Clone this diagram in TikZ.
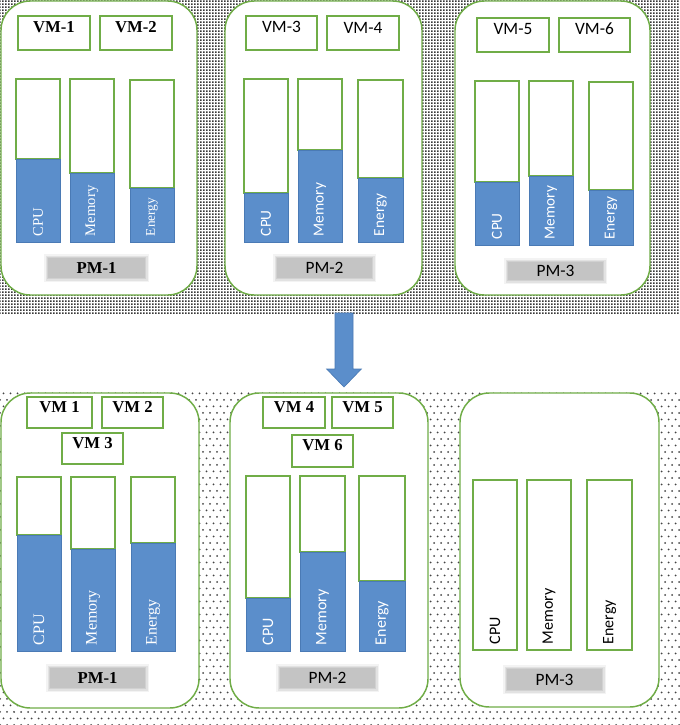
\documentclass[tikz,border=0pt]{standalone}
\usepackage{fontspec}
\setmainfont{Liberation Serif}
\newfontfamily\carl{Carlito}
\usetikzlibrary{patterns.meta,fit}
\definecolor{pmgreen}{HTML}{70AD47}
\definecolor{barblue}{HTML}{5B8ECB}
\definecolor{baredge}{HTML}{4A7AB5}
\definecolor{lblgray}{HTML}{C4C4C4}
\definecolor{dotgray}{HTML}{383838}
\definecolor{dotgrayb}{HTML}{444444}
\tikzdeclarepattern{
  name=topdots,
  type=uncolored,
  bounding box={(0pt,0pt) and (2.25pt,2.25pt)},
  tile size={(2.25pt,2.25pt)},
  code={\fill (0pt,0pt) rectangle (1.55pt,1.55pt);}
}
\tikzdeclarepattern{
  name=botdots,
  type=uncolored,
  bounding box={(-1pt,-1pt) and (5.25pt,9.75pt)},
  tile size={(5.25pt,9.75pt)},
  code={\fill (0pt,0pt) circle (0.75pt); \fill (2.625pt,4.875pt) circle (0.75pt);}
}
\newcommand\bx[6]{\node[fit={(#2,#3) (#4,#5)}, inner sep=0pt, #6] (#1) {};}
\newcommand\vmn[7]{\node[fit={(#2,#3) (#4,#5)}, inner sep=0pt, vmbox, font=#6] (#1) {#7};}
\newcommand\resbar[8]{%
  \node[fit={(#2,#4) (#3,#5)}, inner sep=0pt, barframe] (#1w) {};
  \node[fit={(#2,#5) (#3,#6)}, inner sep=0pt, barfull] (#1f) {};
  \node[bartext, font=#7] (#1t) at ([yshift=4.5pt]#1f.south) {#8};}
\newcommand\lbl[7]{%
  \fill[lblgray, opacity=0.2] (#2-4,#3-4) rectangle (#4+4,#5+4);
  \fill[lblgray, opacity=0.35] (#2-2.5,#3-2.5) rectangle (#4+2.5,#5+2.5);
  \fill[lblgray, opacity=0.55] (#2-1,#3-1) rectangle (#4+1,#5+1);
  \node[fit={(#2,#3) (#4,#5)}, inner sep=0pt, fill=lblgray] (#1) {};
  \node[font=#6] (#1t) at (#1) {#7};}
\begin{document}
\begin{tikzpicture}[x=0.75pt,y=-0.75pt,
  pmbox/.style={draw=pmgreen, line width=1.1pt, fill=white, rounded corners=22pt},
  vmbox/.style={draw=pmgreen, line width=1pt, fill=white, text=black},
  barframe/.style={draw=pmgreen, line width=0.8pt, fill=white},
  barfull/.style={draw=baredge, line width=0.6pt, fill=barblue},
  bartext/.style={rotate=90, anchor=west, inner sep=0pt, text=white},
  ]
\def\fTB{\fontsize{12.5}{14}\selectfont\bfseries}
\def\fTbar{\fontsize{11}{13}\selectfont}
\def\fTen{\fontsize{10}{12}\selectfont}
\def\fTbarb{\fontsize{12}{14}\selectfont}
\def\fC{\carl\fontsize{13}{15}\selectfont}
\def\fCbar{\carl\fontsize{11.5}{13}\selectfont}
\def\fCbarb{\carl\fontsize{12}{14}\selectfont}
\useasboundingbox (0,0) rectangle (680,725);
\fill[white] (0,0) rectangle (680,725);
\fill[pattern=topdots, pattern color=dotgray] (0,0) rectangle (680,313);
\fill[pattern=botdots, pattern color=dotgrayb] (0,388) rectangle (680,725);
% ---------- top ----------
\bx{tpm1}{1}{1}{197}{295}{pmbox}
\bx{tpm2}{225}{1}{422}{295}{pmbox}
\bx{tpm3}{455}{1}{650}{295}{pmbox}
\vmn{tvm1}{18}{16}{90}{50}{\fTB}{VM-1}
\vmn{tvm2}{100}{16}{172}{50}{\fTB}{VM-2}
\vmn{tvm3}{246}{16}{317}{50}{\fC}{VM-3}
\vmn{tvm4}{327}{16}{399}{50}{\fC}{VM-4}
\vmn{tvm5}{477}{18}{549}{52}{\fC}{VM-5}
\vmn{tvm6}{559}{18}{630}{52}{\fC}{VM-6}
\resbar{ta1}{16}{60}{79}{159}{242}{\fTbar}{CPU}
\resbar{ta2}{70}{114}{79}{173}{242}{\fTbar}{Memory}
\resbar{ta3}{130}{174}{80}{188}{242}{\fTen}{Energy}
\resbar{tb1}{244}{288}{79}{193}{242}{\fCbar}{CPU}
\resbar{tb2}{298}{342}{79}{150}{242}{\fCbar}{Memory}
\resbar{tb3}{358}{403}{80}{178}{242}{\fCbar}{Energy}
\resbar{tc1}{475}{519}{81}{182}{245}{\fCbar}{CPU}
\resbar{tc2}{529}{573}{81}{176}{245}{\fCbar}{Memory}
\resbar{tc3}{589}{633}{82}{190}{245}{\fCbar}{Energy}
\lbl{tl1}{48}{258}{145}{278}{\fTB}{PM-1}
\lbl{tl2}{277}{258}{372}{278}{\fC}{PM-2}
\lbl{tl3}{508}{262}{603}{280}{\fC}{PM-3}
% ---------- arrow ----------
\coordinate (arrT) at (344,313);
\coordinate (arrB) at (344,387);
\fill[barblue, draw=baredge, line width=0.5pt]
  ([xshift=-6.75pt]arrT) -- ([xshift=6.75pt]arrT) -- ([xshift=6.75pt,yshift=13.5pt]arrB)
  -- ([xshift=13pt,yshift=13.5pt]arrB) -- (arrB) -- ([xshift=-13pt,yshift=13.5pt]arrB)
  -- ([xshift=-6.75pt,yshift=13.5pt]arrB) -- cycle;
% ---------- bottom ----------
\bx{bpm1}{1}{393}{199}{708}{pmbox}
\bx{bpm2}{230}{393}{428}{708}{pmbox}
\bx{bpm3}{460}{393}{659}{707}{pmbox}
\vmn{bvm1}{27}{397}{92}{428}{\fTB}{VM 1}
\vmn{bvm2}{102}{397}{163}{428}{\fTB}{VM 2}
\vmn{bvm3}{62}{433}{123}{464}{\fTB}{VM 3}
\vmn{bvm4}{263}{397}{325}{428}{\fTB}{VM 4}
\vmn{bvm5}{332}{397}{393}{428}{\fTB}{VM 5}
\vmn{bvm6}{292}{435}{353}{467}{\fTB}{VM 6}
\resbar{ba1}{17}{61}{477}{535}{651}{\fTbarb}{CPU}
\resbar{ba2}{71}{115}{477}{549}{651}{\fTbarb}{Memory}
\resbar{ba3}{131}{175}{477}{543}{651}{\fTbarb}{Energy}
\resbar{bb1}{246}{290}{476}{598}{651}{\fCbarb}{CPU}
\resbar{bb2}{300}{345}{476}{552}{651}{\fCbarb}{Memory}
\resbar{bb3}{359}{405}{476}{581}{651}{\fCbarb}{Energy}
\node[fit={(473,480) (517,650)}, inner sep=0pt, barframe] (bc1w) {};
\node[bartext, text=black, font=\fCbarb] (bc1t) at ([yshift=4.5pt]bc1w.south) {CPU};
\node[fit={(527,480) (571,650)}, inner sep=0pt, barframe] (bc2w) {};
\node[bartext, text=black, font=\fCbarb] (bc2t) at ([yshift=4.5pt]bc2w.south) {Memory};
\node[fit={(587,480) (632,650)}, inner sep=0pt, barframe] (bc3w) {};
\node[bartext, text=black, font=\fCbarb] (bc3t) at ([yshift=4.5pt]bc3w.south) {Energy};
\lbl{bl1}{50}{668}{145}{688}{\fTB}{PM-1}
\lbl{bl2}{280}{668}{375}{688}{\fC}{PM-2}
\lbl{bl3}{507}{669}{602}{690}{\fC}{PM-3}
\end{tikzpicture}
\end{document}
